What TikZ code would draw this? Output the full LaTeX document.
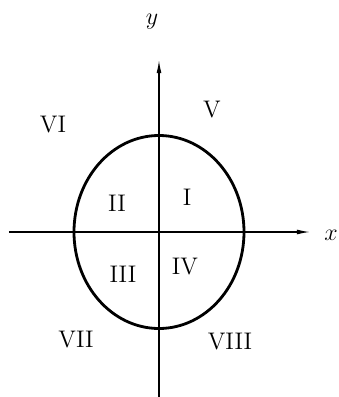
\documentclass[tikz,border=0pt]{standalone}
\usetikzlibrary{arrows.meta}
\tikzset{
  axis/.style={-{Latex[length=6.5pt,width=2.4pt]}, line width=0.6pt},
  curve/.style={draw, line width=1.4pt},
  region/.style={font=\large, inner sep=0pt},
  axis label/.style={font=\large, inner sep=0pt}
}

\begin{document}
\begin{tikzpicture}[x=0.5pt,y=0.5pt]
  \useasboundingbox (-159,-165) rectangle (179,232);

  \coordinate (o) at (0,0);
  \coordinate (xstart) at (-150,0);
  \coordinate (xend) at (151,0);
  \coordinate (ystart) at (0,-165);
  \coordinate (yend) at (0,172);

  \draw[axis] (xstart) -- (xend);
  \draw[axis] (ystart) -- (yend);
  \draw[curve] (o) ellipse [x radius=85, y radius=96.5];

  \node[axis label] (xlabel) at (172,-3) {$x$};
  \node[axis label] (ylabel) at (-7,210) {$y$};

  \node[region] (r1) at (28,35) {I};
  \node[region] (r2) at (-42,29) {II};
  \node[region] (r3) at (-36,-42) {III};
  \node[region] (r4) at (26,-35) {IV};
  \node[region] (r5) at (53,122) {V};
  \node[region] (r6) at (-106,107) {VI};
  \node[region] (r7) at (-83,-108) {VII};
  \node[region] (r8) at (71,-110) {VIII};
\end{tikzpicture}
\end{document}
